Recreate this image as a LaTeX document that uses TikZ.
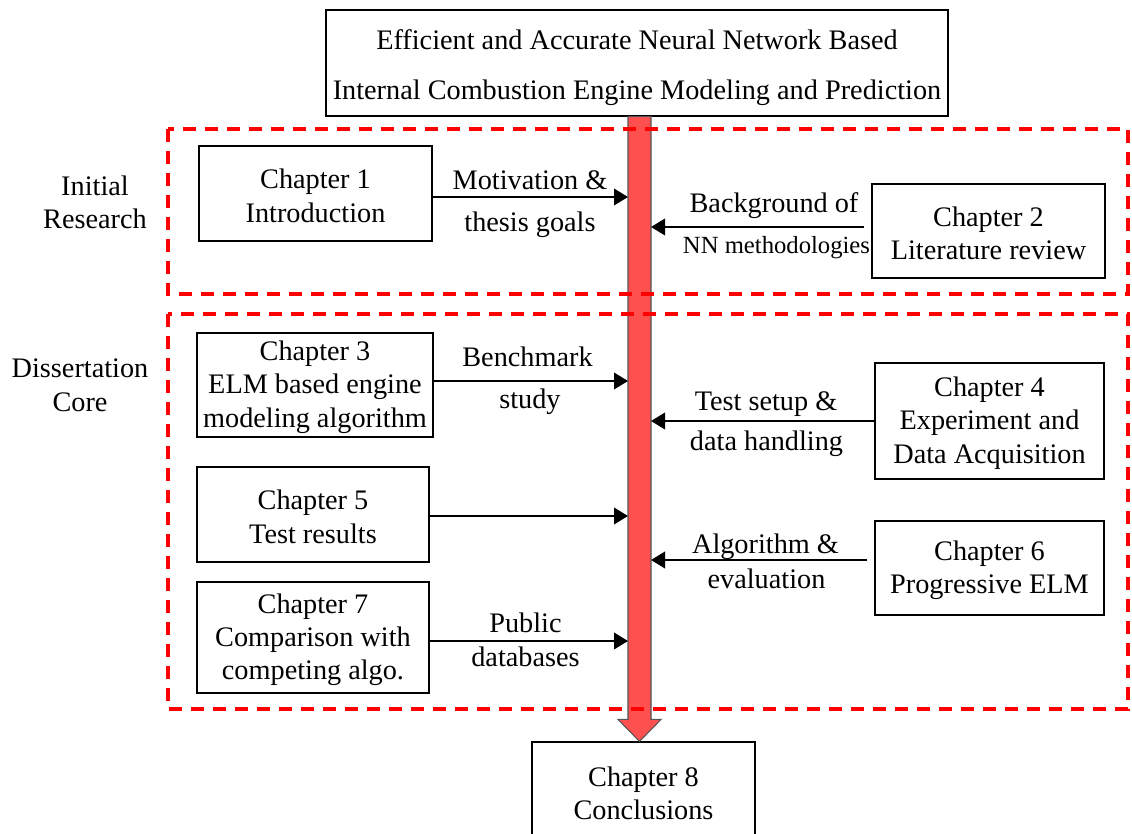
\documentclass[tikz,border=0pt]{standalone}
\usepackage{fontspec}
\setmainfont{Liberation Serif}
\usetikzlibrary{calc,arrows.meta}
\definecolor{barred}{RGB}{255,80,80}
\definecolor{bardraw}{RGB}{85,85,85}
\begin{document}
\begin{tikzpicture}[x=0.75pt,y=-0.75pt,
  txt/.style={font=\fontsize{21.2}{25}\selectfont},
  box/.style 2 args={draw, line width=0.9pt, align=center, inner sep=0pt, txt,
    minimum width=#1*0.75pt, minimum height=#2*0.75pt},
  lbl/.style={txt, inner sep=0pt, anchor=base},
  small/.style={font=\fontsize{18.5}{22}\selectfont, inner sep=0pt, anchor=base},
  arr/.style={line width=1.1pt, -{Triangle[length=10.5pt,width=12.5pt]}},
  zone/.style={draw=red, line width=2.3pt, dash pattern=on 10pt off 6.5pt},
  bar/.style={fill=barred, draw=bardraw, line width=0.8pt, line join=miter}]
\clip (0,0) rectangle (1132,834);
% taller first line so the text block sits a little lower in its box
\newcommand{\firstline}{\rule{0pt}{18pt}}

% chapter boxes
\node[box={622}{106}] (title) at (637,63)
  {\rule{0pt}{22.5pt}Efficient and Accurate Neural Network Based\\[12.5pt]
   Internal Combustion Engine Modeling and Prediction};
\node[box={233}{95}]  (ch1) at (315.5,193.5) {\firstline Chapter 1\\Introduction};
\node[box={233}{94}]  (ch2) at (988.5,231)   {\firstline Chapter 2\\Literature review};
\node[box={236}{104}] (ch3) at (315,385)     {\firstline Chapter 3\\ELM based engine\\modeling algorithm};
\node[box={229}{116}] (ch4) at (989.5,421)   {\firstline Chapter 4\\Experiment and\\Data Acquisition};
\node[box={232}{95}]  (ch5) at (313,514.5)   {\firstline Chapter 5\\Test results};
\node[box={229}{94}]  (ch6) at (989.5,568)   {\firstline Chapter 6\\Progressive ELM};
\node[box={232}{111}] (ch7) at (313,637.5)   {\firstline Chapter 7\\Comparison with\\competing algo.};
\node[box={223}{102}] (ch8) at (643.5,793)   {Chapter 8\\Conclusions};

% central flow bar from the title down to the conclusions
\coordinate (barx) at (639.5,0);
\draw[bar]
  ($(title.south -| barx)+(-11.5,0)$) --
  ($(ch8.north -| barx)+(-11.5,-22)$) --
  ($(ch8.north -| barx)+(-21.5,-22)$) --
  (ch8.north -| barx) --
  ($(ch8.north -| barx)+(21.5,-22)$) --
  ($(ch8.north -| barx)+(11.5,-22)$) --
  ($(title.south -| barx)+(11.5,0)$) -- cycle;
\coordinate (barL) at ($(barx)+(-11.5,0)$);
\coordinate (barR) at ($(barx)+(11.5,0)$);

% research phases
\draw[zone] (168,129) rectangle (1128,294);
\draw[zone] (168,314) rectangle (1128,709);
\node[lbl] (ph1a) at (95,195.5) {Initial};
\node[lbl] (ph1b) at (95,228.5) {Research};
\node[lbl] (ph2a) at (80,377.5) {Dissertation};
\node[lbl] (ph2b) at (80,411.5) {Core};

% contributions of each chapter
\draw[arr] (ch1.east |- 0,197) -- (barL |- 0,197);
\node[lbl] at (530,189.5) {Motivation \&};
\node[lbl] at (530,231.5) {thesis goals};

\draw[arr] ($(ch2.west |- 0,227)+(-7,0)$) -- (barR |- 0,227);
\node[lbl] at (774,212.5) {Background of};
\node[small] at (776.5,253.5) {NN methodologies};

\draw[arr] (ch3.east |- 0,381) -- (barL |- 0,381);
\node[lbl] at (527.5,366.5) {Benchmark};
\node[lbl] at (530,408.5) {study};

\draw[arr] (ch4.west |- 0,421) -- (barR |- 0,421);
\node[lbl] at (766,410.5) {Test setup \&};
\node[lbl] at (766.5,450.5) {data handling};

\draw[arr] (ch5.east |- 0,516) -- (barL |- 0,516);

\draw[arr] ($(ch6.west |- 0,560)+(-7,0)$) -- (barR |- 0,560);
\node[lbl] at (765.5,553.5) {Algorithm \&};
\node[lbl] at (766.5,588.5) {evaluation};

\draw[arr] (ch7.east |- 0,641) -- (barL |- 0,641);
\node[lbl] at (525.5,632.5) {Public};
\node[lbl] at (525.5,666.5) {databases};
\end{tikzpicture}
\end{document}
